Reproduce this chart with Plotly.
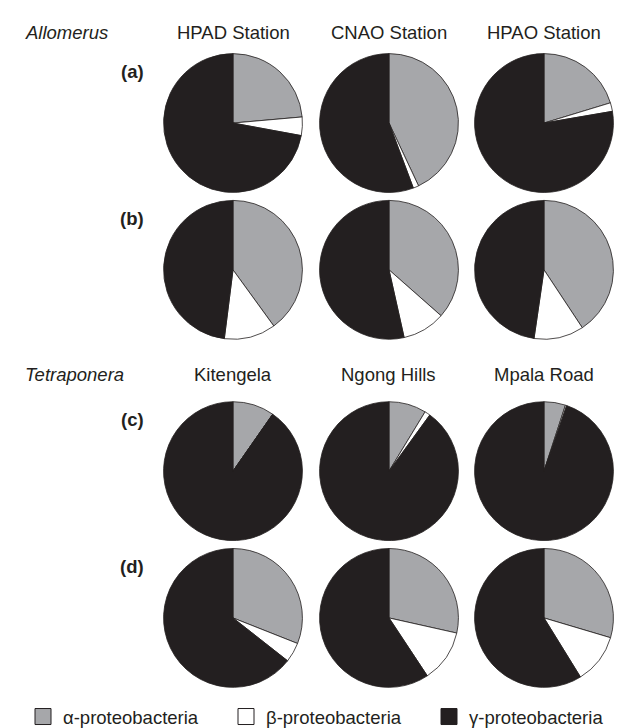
import plotly.graph_objects as go

W, H = 629, 728

labels = ["α-proteobacteria", "β-proteobacteria", "γ-proteobacteria"]
colors = ["#a6a7aa", "#ffffff", "#231f20"]

allomerus_sites = ["HPAD Station", "CNAO Station", "HPAO Station"]
tetraponera_sites = ["Kitengela", "Ngong Hills", "Mpala Road"]

# percentages: alpha, beta, gamma
row_a = [[23.6, 4.3, 72.1], [43.0, 1.3, 55.7], [20.3, 2.0, 77.7]]
row_b = [[40.0, 12.0, 48.0], [36.5, 10.0, 53.5], [40.7, 11.6, 47.7]]
row_c = [[9.7, 0.0, 90.3], [8.7, 1.3, 90.0], [5.0, 0.3, 94.7]]
row_d = [[31.0, 4.6, 64.4], [28.5, 12.2, 59.3], [29.6, 11.6, 58.8]]

rows = [row_a, row_b, row_c, row_d]
row_tags = ["(a)", "(b)", "(c)", "(d)"]

# layout geometry (pixels)
col_cx = [225, 381, 536]
row_cy = [116, 264, 467, 615]
R = 70
EDGE = "#231f20"

fig = go.Figure()
for ri, row in enumerate(rows):
    for ci, vals in enumerate(row):
        cx, cy = col_cx[ci], row_cy[ri]
        fig.add_trace(go.Pie(
            labels=labels, values=vals, sort=False, direction="clockwise",
            rotation=0, textinfo="none", hoverinfo="label+percent",
            marker=dict(colors=colors, line=dict(color=EDGE, width=0.8)),
            domain=dict(x=[(cx - R) / W, (cx + R) / W],
                        y=[1 - (cy + R) / H, 1 - (cy - R) / H]),
            showlegend=False,
        ))

# legend keys (larger square swatches than the pie legend provides)
for lab, col in zip(labels, colors):
    fig.add_trace(go.Scatter(
        x=[None], y=[None], mode="markers", name=lab,
        marker=dict(symbol="square", size=16, color=col, line=dict(color=EDGE, width=1)),
        showlegend=True, hoverinfo="skip",
    ))

ann = []
font = dict(family="Liberation Sans, Arial, sans-serif", size=18.5, color=EDGE)

def px(x):
    return x / W

def py(y):
    return 1 - y / H

ann.append(dict(x=px(15), y=py(25), text="<i>Allomerus</i>", xanchor="left", yanchor="middle",
                showarrow=False, font=font, xref="paper", yref="paper"))
ann.append(dict(x=px(15), y=py(370), text="<i>Tetraponera</i>", xanchor="left", yanchor="middle",
                showarrow=False, font=font, xref="paper", yref="paper"))
for ci, name in enumerate(allomerus_sites):
    ann.append(dict(x=px(col_cx[ci]), y=py(25), text=name, xanchor="center", yanchor="middle",
                    showarrow=False, font=font, xref="paper", yref="paper"))
for ci, name in enumerate(tetraponera_sites):
    ann.append(dict(x=px(col_cx[ci]), y=py(370), text=name, xanchor="center", yanchor="middle",
                    showarrow=False, font=font, xref="paper", yref="paper"))
for ri, tag in enumerate(row_tags):
    ann.append(dict(x=px(138), y=py(row_cy[ri] - 52), text="<b>" + tag + "</b>", xanchor="right",
                    yanchor="middle", showarrow=False, font=font, xref="paper", yref="paper"))

fig.update_layout(
    width=W, height=H, margin=dict(l=0, r=0, t=0, b=0),
    paper_bgcolor="white", plot_bgcolor="white",
    xaxis=dict(visible=False, domain=[0, 0.01]), yaxis=dict(visible=False, domain=[0, 0.01]),
    annotations=ann,
    legend=dict(orientation="h", x=px(15), y=py(715), xanchor="left", yanchor="middle",
                font=font, entrywidth=158, entrywidthmode="pixels", itemsizing="trace",
                itemclick=False, traceorder="normal", bgcolor="rgba(0,0,0,0)"),
)

fig.write_html("out.html")
